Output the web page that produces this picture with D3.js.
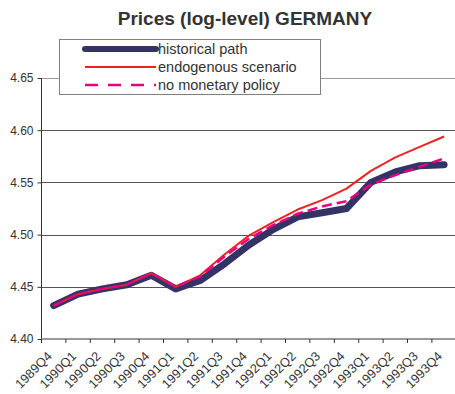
<!DOCTYPE html>
<html>
<head>
<meta charset="utf-8">
<script src="https://cdn.jsdelivr.net/npm/d3@7"></script>
<style>
  html, body { margin: 0; padding: 0; background: #fff; }
  svg { display: block; font-family: "Liberation Sans", Arial, sans-serif; }
</style>
</head>
<body>
<svg id="chart" width="455" height="394"></svg>
<script>
// Quarterly categories
const quarters = ["1989Q4","1990Q1","1990Q2","1990Q3","1990Q4","1991Q1","1991Q2","1991Q3",
  "1991Q4","1992Q1","1992Q2","1992Q3","1992Q4","1993Q1","1993Q2","1993Q3","1993Q4"];

// Log price level, Germany
const historicalPath = [4.432, 4.443, 4.448, 4.452, 4.461, 4.448, 4.456, 4.472, 4.490,
  4.505, 4.517, 4.521, 4.525, 4.550, 4.560, 4.566, 4.567];
const endogenousScenario = [4.432, 4.443, 4.448, 4.452, 4.463, 4.450, 4.461, 4.481, 4.499,
  4.512, 4.524, 4.533, 4.544, 4.561, 4.574, 4.584, 4.594];
const noMonetaryPolicy = [4.432, 4.443, 4.448, 4.452, 4.463, 4.450, 4.460, 4.479, 4.496,
  4.509, 4.520, 4.527, 4.532, 4.548, 4.557, 4.565, 4.573];

const yTicks = [4.40, 4.45, 4.50, 4.55, 4.60, 4.65];
const seriesNames = ["historical path", "endogenous scenario", "no monetary policy"];

const svg = d3.select("#chart");
const left = 41.5, catW = 24.4;
const x = d3.scaleBand().domain(quarters).range([left, left + catW * quarters.length]).padding(0);
const y = d3.scaleLinear().domain([4.40, 4.65]).range([339, 78]);

// Title
svg.append("text")
  .attr("x", 245).attr("y", 25)
  .attr("text-anchor", "middle")
  .attr("font-size", 19).attr("font-weight", "bold")
  .attr("fill", "#333333")
  .text("Prices (log-level) GERMANY");

// Horizontal gridlines
svg.append("g").selectAll("line")
  .data(yTicks.filter(t => t > 4.40))
  .join("line")
  .attr("x1", left).attr("x2", 455)
  .attr("y1", d => Math.round(y(d)) + 0.5).attr("y2", d => Math.round(y(d)) + 0.5)
  .attr("stroke", d => d === 4.65 ? "#999999" : "#555555")
  .attr("stroke-width", 1);

// Y axis
const yAxis = d3.axisLeft(y).tickValues(yTicks).tickFormat(d3.format(".2f")).tickSize(4).tickPadding(4);
const gy = svg.append("g").attr("transform", `translate(${left},0)`).call(yAxis);
gy.select(".domain").attr("stroke", "#333333").attr("d", `M0,${y(4.65)}V${y(4.40)}`);
gy.selectAll(".tick line").attr("stroke", "#333333");
gy.selectAll(".tick text").attr("font-size", 12).attr("fill", "#333333")
  .attr("font-family", "Liberation Sans, Arial, sans-serif");

// X axis: ticks on category boundaries
const gx = svg.append("g");
gx.append("line")
  .attr("x1", left).attr("x2", 455)
  .attr("y1", y(4.40)).attr("y2", y(4.40))
  .attr("stroke", "#999999").attr("stroke-width", 2);
gx.selectAll("line.tick")
  .data(quarters)
  .join("line").attr("class", "tick")
  .attr("x1", d => x(d)).attr("x2", d => x(d))
  .attr("y1", y(4.40)).attr("y2", y(4.40) + 4)
  .attr("stroke", "#333333");
gx.selectAll("text")
  .data(quarters)
  .join("text")
  .attr("transform", d => `translate(${x(d) + x.bandwidth() / 2 - 1},${y(4.40) + 18}) rotate(-45)`)
  .attr("text-anchor", "end")
  .attr("font-size", 12.8)
  .attr("fill", "#333333")
  .text(d => d);

// Series lines
const line = d3.line()
  .x((d, i) => x(quarters[i]) + x.bandwidth() / 2)
  .y(d => y(d));

svg.append("path").datum(historicalPath)
  .attr("d", line).attr("fill", "none")
  .attr("stroke", "#333366").attr("stroke-width", 7)
  .attr("stroke-linecap", "round").attr("stroke-linejoin", "round");
svg.append("path").datum(endogenousScenario)
  .attr("d", line).attr("fill", "none")
  .attr("stroke", "#ee2222").attr("stroke-width", 2)
  .attr("stroke-linejoin", "round");
svg.append("path").datum(noMonetaryPolicy)
  .attr("d", line).attr("fill", "none")
  .attr("stroke", "#e8007f").attr("stroke-width", 2.5)
  .attr("stroke-dasharray", "10,5")
  .attr("stroke-linejoin", "round");

// Legend
const legend = svg.append("g");
legend.append("rect")
  .attr("x", 59.5).attr("y", 39.5).attr("width", 261).attr("height", 55)
  .attr("fill", "#ffffff").attr("stroke", "#808080").attr("stroke-width", 1);
const legendStyles = [
  { stroke: "#333366", width: 6, dash: null, cap: "round" },
  { stroke: "#ee2222", width: 2, dash: null, cap: "butt" },
  { stroke: "#e8007f", width: 2.5, dash: "13,10", cap: "butt" }
];
seriesNames.forEach((name, i) => {
  const cy = 49 + i * 18;
  const s = legendStyles[i];
  legend.append("line")
    .attr("x1", 85).attr("x2", 156).attr("y1", cy).attr("y2", cy)
    .attr("stroke", s.stroke).attr("stroke-width", s.width)
    .attr("stroke-linecap", s.cap)
    .attr("stroke-dasharray", s.dash);
  legend.append("text")
    .attr("x", 158).attr("y", cy + 5)
    .attr("font-size", 14.5).attr("fill", "#333333")
    .text(name);
});
</script>
</body>
</html>
